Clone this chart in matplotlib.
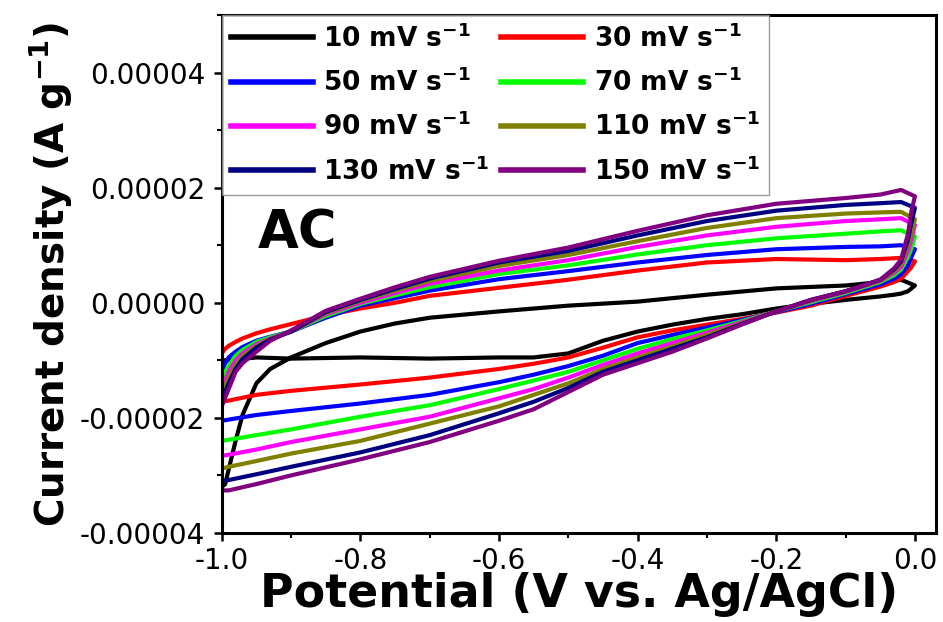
import numpy as np
import matplotlib.pyplot as plt
from matplotlib.ticker import MultipleLocator

# scan rates / legend
rate_labels = [r'10 mV s$^{\mathbf{-1}}$', r'30 mV s$^{\mathbf{-1}}$', r'50 mV s$^{\mathbf{-1}}$',
               r'70 mV s$^{\mathbf{-1}}$', r'90 mV s$^{\mathbf{-1}}$', r'110 mV s$^{\mathbf{-1}}$',
               r'130 mV s$^{\mathbf{-1}}$', r'150 mV s$^{\mathbf{-1}}$']
colors = ['#000000', '#ff0000', '#0000ff', '#00ff00', '#ff00ff', '#808000', '#000080', '#800080']

# anodic sweep (-1.0 -> 0.0 V), current in 1e-5 A/g
up_v = [-1.0, -0.995, -0.99, -0.98, -0.97, -0.95, -0.93, -0.9, -0.85, -0.8, -0.75,
        -0.7, -0.6, -0.5, -0.4, -0.3, -0.2, -0.1, -0.05, -0.02, 0.0]
up_10 = [-3.2, -3.15, -2.9, -2.4, -1.95, -1.4, -1.15, -0.95, -0.7, -0.5, -0.36,
         -0.26, -0.15, -0.05, 0.02, 0.14, 0.25, 0.3, 0.36, 0.4, 0.3]
up_30 = [-0.88, -0.8, -0.75, -0.68, -0.62, -0.53, -0.46, -0.37, -0.22, -0.1, 0.0,
         0.12, 0.26, 0.4, 0.56, 0.7, 0.76, 0.74, 0.76, 0.78, 0.72]
up_50 = [-1.2, -1.05, -0.95, -0.85, -0.77, -0.66, -0.59, -0.5, -0.26, -0.05, 0.08,
         0.21, 0.41, 0.55, 0.7, 0.83, 0.93, 0.97, 0.98, 1.0, 0.93]
up_70 = [-1.4, -1.2, -1.1, -0.92, -0.82, -0.68, -0.6, -0.5, -0.23, -0.02, 0.13,
         0.27, 0.5, 0.65, 0.84, 1.0, 1.12, 1.2, 1.24, 1.26, 1.15]
up_90 = [-1.55, -1.35, -1.2, -1.0, -0.88, -0.72, -0.62, -0.5, -0.2, 0.0, 0.17,
         0.33, 0.56, 0.74, 0.97, 1.17, 1.32, 1.42, 1.45, 1.47, 1.35]
up_110 = [-1.65, -1.45, -1.3, -1.08, -0.93, -0.75, -0.63, -0.5, -0.18, 0.03, 0.21,
          0.38, 0.64, 0.83, 1.07, 1.3, 1.47, 1.55, 1.57, 1.58, 1.45]
up_130 = [-1.75, -1.55, -1.4, -1.15, -0.98, -0.78, -0.64, -0.5, -0.16, 0.05, 0.24,
          0.42, 0.7, 0.9, 1.17, 1.42, 1.6, 1.7, 1.73, 1.75, 1.65]
up_150 = [-1.8, -1.65, -1.5, -1.2, -1.05, -0.85, -0.66, -0.48, -0.14, 0.07, 0.27,
          0.45, 0.73, 0.96, 1.25, 1.52, 1.72, 1.82, 1.88, 1.96, 1.85]

# cathodic sweep (0.0 -> -1.0 V)
low_v = [0.0, -0.005, -0.01, -0.02, -0.03, -0.05, -0.1, -0.15, -0.2, -0.25, -0.3, -0.35,
         -0.4, -0.45, -0.5, -0.55, -0.6, -0.7, -0.8, -0.9, -0.95, -0.99, -1.0]
low_10 = [0.3, 0.25, 0.2, 0.16, 0.14, 0.11, 0.05, -0.02, -0.1, -0.2, -0.28, -0.38,
          -0.5, -0.66, -0.88, -0.95, -0.95, -0.97, -0.95, -0.97, -0.95, -1.0, -1.0]
low_30 = [0.72, 0.62, 0.55, 0.42, 0.36, 0.28, 0.12, -0.05, -0.17, -0.28, -0.38, -0.48,
          -0.6, -0.78, -0.95, -1.06, -1.15, -1.3, -1.42, -1.53, -1.6, -1.7, -1.72]
low_50 = [0.93, 0.8, 0.65, 0.5, 0.42, 0.32, 0.15, -0.02, -0.16, -0.3, -0.43, -0.56,
          -0.7, -0.92, -1.1, -1.25, -1.38, -1.6, -1.75, -1.88, -1.95, -2.03, -2.05]
low_70 = [1.15, 0.95, 0.8, 0.58, 0.48, 0.36, 0.17, 0.01, -0.15, -0.32, -0.48, -0.63,
          -0.8, -1.0, -1.2, -1.35, -1.5, -1.78, -1.98, -2.2, -2.3, -2.38, -2.4]
low_90 = [1.35, 1.1, 0.9, 0.63, 0.52, 0.38, 0.19, 0.03, -0.15, -0.34, -0.52, -0.7,
          -0.88, -1.08, -1.3, -1.5, -1.66, -1.98, -2.2, -2.42, -2.55, -2.64, -2.66]
low_110 = [1.45, 1.2, 1.0, 0.68, 0.55, 0.39, 0.2, 0.04, -0.15, -0.36, -0.56, -0.76,
           -0.95, -1.15, -1.4, -1.6, -1.8, -2.1, -2.4, -2.62, -2.75, -2.85, -2.88]
low_130 = [1.65, 1.4, 1.1, 0.72, 0.58, 0.4, 0.2, 0.05, -0.15, -0.37, -0.6, -0.8,
           -1.0, -1.2, -1.48, -1.72, -1.92, -2.3, -2.6, -2.85, -2.98, -3.08, -3.1]
low_150 = [1.85, 1.6, 1.2, 0.75, 0.6, 0.4, 0.2, 0.05, -0.15, -0.38, -0.62, -0.85,
           -1.05, -1.25, -1.55, -1.85, -2.05, -2.42, -2.72, -3.0, -3.15, -3.26, -3.26]

uppers = [up_10, up_30, up_50, up_70, up_90, up_110, up_130, up_150]
lowers = [low_10, low_30, low_50, low_70, low_90, low_110, low_130, low_150]

xtick_vals = [-1.0, -0.8, -0.6, -0.4, -0.2, 0.0]
xtick_labels = ['-1.0', '-0.8', '-0.6', '-0.4', '-0.2', '0.0']
ytick_vals = [-4e-5, -2e-5, 0.0, 2e-5, 4e-5]
ytick_labels = ['-0.00004', '-0.00002', '0.00000', '0.00002', '0.00004']

plt.rcParams['font.family'] = 'DejaVu Sans'
plt.rcParams['mathtext.fontset'] = 'dejavusans'

fig = plt.figure(figsize=(9.43, 6.22), dpi=100)
ax = fig.add_axes([0.2351, 0.1431, 0.7572, 0.8328])

lines = []
for lab, col, up, low in zip(rate_labels, colors, uppers, lowers):
    xs = np.array(up_v + low_v + [up_v[0]])
    ys = np.array(up + low + [up[0]]) * 1e-5
    ln, = ax.plot(xs, ys, color=col, lw=3, label=lab, solid_joinstyle='round')
    lines.append(ln)

ax.set_xlim(-1.0, 0.03)
ax.set_ylim(-4e-5, 5e-5)
ax.set_xticks(xtick_vals)
ax.set_xticklabels(xtick_labels)
ax.set_yticks(ytick_vals)
ax.set_yticklabels(ytick_labels)
ax.xaxis.set_minor_locator(MultipleLocator(0.1))
ax.yaxis.set_minor_locator(MultipleLocator(1e-5))
ax.tick_params(which='major', direction='out', length=6, width=1.8, labelsize=20)
ax.tick_params(axis='y', which='major', pad=6)
ax.tick_params(axis='x', which='major', pad=4)
ax.tick_params(which='minor', direction='out', length=3.5, width=1.5)
for sp in ax.spines.values():
    sp.set_linewidth(2.2)

ax.set_xlabel('Potential (V vs. Ag/AgCl)', fontsize=33, fontweight='bold', labelpad=-2)
ax.set_ylabel(r'Current density (A g$^{\mathbf{-1}}$)', fontsize=28, fontweight='bold', labelpad=4)

ax.text(-0.948, 1.21e-5, 'AC', fontsize=38, fontweight='bold', va='center', ha='left')

# legend filled row by row: 10|30, 50|70, 90|110, 130|150
order = [0, 2, 4, 6, 1, 3, 5, 7]
leg = ax.legend([lines[i] for i in order], [rate_labels[i] for i in order],
                loc='upper left', ncol=2, frameon=True, fancybox=False, borderaxespad=0,
                prop={'weight': 'bold', 'size': 19}, handlelength=3.1, handletextpad=0.4,
                columnspacing=0.45, labelspacing=0.6, borderpad=0.35)
leg.get_frame().set_edgecolor('0.5')
leg.get_frame().set_linewidth(1)
for h in leg.get_lines():
    h.set_linewidth(4)

fig.savefig('out.png', dpi=100)
